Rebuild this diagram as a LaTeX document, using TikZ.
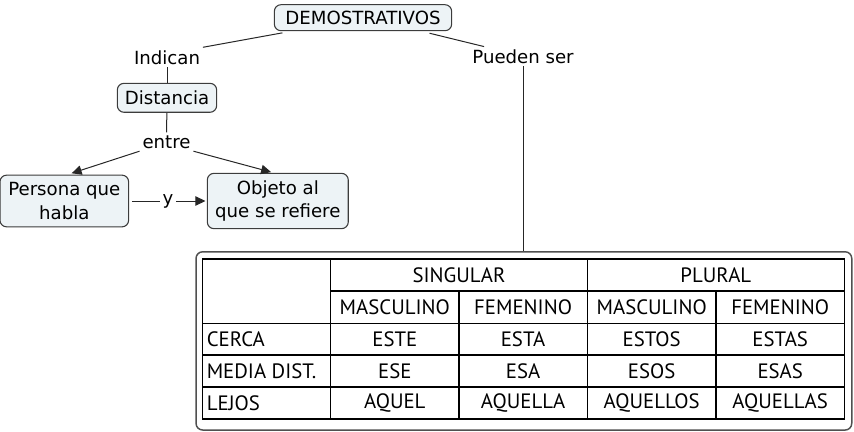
\documentclass[tikz,border=0pt]{standalone}
\usepackage{fontspec}
\setmainfont{DejaVu Sans}
\newfontfamily\tablafont{PT Sans}
\usetikzlibrary{arrows.meta,positioning}

\definecolor{cajafondo}{RGB}{237,243,246}
\definecolor{cajaborde}{RGB}{60,60,60}
\definecolor{marcoborde}{RGB}{80,80,80}

\tikzset{
  concepto/.style={draw=cajaborde, fill=cajafondo, rounded corners=5pt, line width=0.8pt, align=center, inner sep=0pt},
  enlace/.style={inner sep=2pt},
  linea/.style={draw=black!85, line width=0.75pt},
  flecha/.style={linea, -{Triangle[length=7.5pt,width=7pt]}},
  celda/.style={font=\tablafont\fontsize{15.6}{18}\selectfont, inner sep=0pt},
  rejilla/.style={draw=black, line width=0.9pt},
}

\begin{document}
\begin{tikzpicture}[x=0.75pt, y=-0.75pt, every node/.style={font=\fontsize{13.6}{17.4}\selectfont}]
  \useasboundingbox (0,0) rectangle (854,432);

  % mapa conceptual
  \node[concepto, minimum width=133pt, minimum height=19.5pt] (demo) at (363,17.7) {DEMOSTRATIVOS};
  \node[enlace, anchor=base] (indican) at (167,64) {Indican};
  \node[concepto, minimum width=74.5pt, minimum height=21.7pt] (dist) at (167,97.8) {Distancia};
  \node[enlace, anchor=base] (entre) at (166.5,148) {entre};
  \node[concepto, minimum width=96.5pt, minimum height=38.8pt] (persona) at (64.3,201) {Persona que\\habla};
  \node[concepto, minimum width=105.7pt, minimum height=41.5pt] (objeto) at (277.8,201) {Objeto al\\que se refiere};
  \node[enlace, anchor=base] (ylab) at (168,204) {y};
  \node[enlace, anchor=base] (pueden) at (523,63.3) {Pueden ser};

  \draw[linea] ([xshift=6.5pt,yshift=-1.2pt]demo.south west) -- (indican.north east);
  \draw[linea] (indican) -- (dist);
  \draw[linea] (dist) -- (entre);
  \draw[flecha] (entre.south west) -- ([xshift=5.5pt,yshift=1pt]persona.north);
  \draw[flecha] (entre.south east) -- ([xshift=-5pt,yshift=0.5pt]objeto.north);
  \draw[linea] ([xshift=2pt]persona.east) -- (persona.east -| ylab.west);
  \draw[flecha] (objeto.west -| ylab.east) -- ([xshift=-1pt]objeto.west);
  \draw[linea] ([xshift=-17pt,yshift=-1.5pt]demo.south east) -- ([xshift=11pt]pueden.north west);

  % cuadro de los demostrativos
  \node[draw=marcoborde, fill=white, rounded corners=5pt, line width=1.1pt, minimum width=491.8pt, minimum height=133.7pt, inner sep=0pt] (tabla) at (523.9,340.9) {};
  \draw[linea] (pueden.south) -- (pueden.south |- tabla.north);

  \draw[rejilla] (202.7,259) rectangle (844.3,419);
  \draw[rejilla] (330.7,291) -- (844.3,291);
  \foreach \y in {323.3,355,387}
    \draw[rejilla] (202.7,\y) -- (844.3,\y);
  \foreach \x in {330.7,587.3}
    \draw[rejilla] (\x,259) -- (\x,419);
  \foreach \x in {459,716}
    \draw[rejilla] (\x,291) -- (\x,419);

  \node[celda] (singular) at (459,275) {SINGULAR};
  \node[celda] (plural) at (715.8,275) {PLURAL};
  \node[celda] (masc-s) at (394.8,307) {MASCULINO};
  \node[celda] (fem-s) at (523.1,307) {FEMENINO};
  \node[celda] (masc-p) at (651.7,307) {MASCULINO};
  \node[celda] (fem-p) at (780.2,307) {FEMENINO};

  \foreach \fila/\y/\nom/\a/\b/\c/\d in {cerca/339/CERCA/ESTE/ESTA/ESTOS/ESTAS,
      media/371/MEDIA DIST./ESE/ESA/ESOS/ESAS,
      lejos/403/LEJOS/AQUEL/AQUELLA/AQUELLOS/AQUELLAS} {
    \node[celda, anchor=west] (\fila-0) at (206.5,\y) {\nom};
    \node[celda] (\fila-1) at (394.8,\y) {\a};
    \node[celda] (\fila-2) at (523.1,\y) {\b};
    \node[celda] (\fila-3) at (651.7,\y) {\c};
    \node[celda] (\fila-4) at (780.2,\y) {\d};
  }
\end{tikzpicture}
\end{document}
